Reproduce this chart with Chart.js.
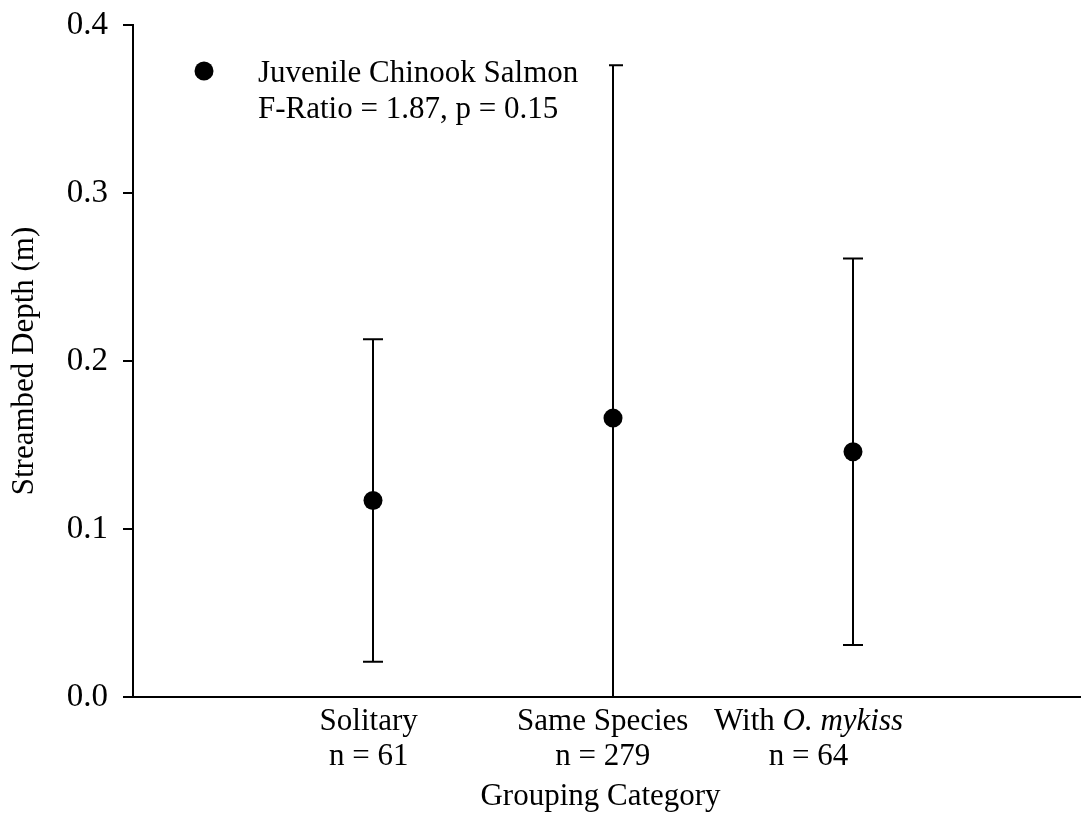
<!DOCTYPE html>
<html>
<head>
<meta charset="utf-8">
<script src="https://cdn.jsdelivr.net/npm/chart.js@4.4.1/dist/chart.umd.min.js"></script>
<style>
  html, body { margin: 0; padding: 0; background: #fff; }
  #wrap { width: 1081px; height: 815px; }
</style>
</head>
<body>
<div id="wrap"><canvas id="depthChart" width="1081" height="815"></canvas></div>
<script>
// grouping categories (second line of each label is the sample size)
const groups = ['Solitary', 'Same Species', 'With O. mykiss'];
const sampleSizes = [61, 279, 64];
const groupX = [1, 2, 3];
// mean streambed depth (m) and error bar half-width
const meanDepth = [0.117, 0.166, 0.146];
const depthErr = [0.096, 0.210, 0.115];
const yTicks = [0.0, 0.1, 0.2, 0.3, 0.4];

const FONT = '"Liberation Serif", "Times New Roman", serif';
const FS = 31;

// label anchors along the x axis, nudged like the printed figure
const labelAnchor = [0.982, 1.957, 2.815];
const axisTitleAnchor = 1.948;

const errorBars = {
    id: 'errorBars',
    beforeDatasetsDraw(chart) {
        const ctx = chart.ctx;
        const xs = chart.scales.x, ys = chart.scales.y;
        const area = chart.chartArea;
        ctx.save();
        ctx.beginPath();
        ctx.rect(area.left, area.top - 2, area.right - area.left, area.bottom - area.top + 2);
        ctx.clip();
        ctx.strokeStyle = '#000';
        ctx.lineWidth = 2;
        for (let i = 0; i < meanDepth.length; i++) {
            const px = Math.round(xs.getPixelForValue(groupX[i]));
            const hi = ys.getPixelForValue(meanDepth[i] + depthErr[i]);
            const lo = ys.getPixelForValue(meanDepth[i] - depthErr[i]);
            ctx.beginPath();
            ctx.moveTo(px, hi); ctx.lineTo(px, lo);
            ctx.moveTo(px - 10, hi); ctx.lineTo(px + 10, hi);
            ctx.moveTo(px - 10, lo); ctx.lineTo(px + 10, lo);
            ctx.stroke();
        }
        ctx.restore();
    }
};

const annotations = {
    id: 'annotations',
    afterDatasetsDraw(chart) {
        const ctx = chart.ctx;
        const xs = chart.scales.x;
        const area = chart.chartArea;
        ctx.save();

        // legend box with white fill, stops just short of the middle bar
        const lx = area.left + 52, ly = area.top + 20;
        const boxRight = xs.getPixelForValue(groupX[1]) - 4;
        ctx.fillStyle = '#fff';
        ctx.fillRect(lx, ly, boxRight - lx, 92);
        ctx.fillStyle = '#000';
        ctx.beginPath();
        ctx.arc(lx + 19, ly + 26, 9.5, 0, Math.PI * 2);
        ctx.fill();
        ctx.font = FS + 'px ' + FONT;
        ctx.textAlign = 'left';
        ctx.textBaseline = 'alphabetic';
        ctx.fillText(chart.data.datasets[0].label, lx + 73, ly + 37);
        ctx.fillText('F-Ratio = 1.87, p = 0.15', lx + 73, ly + 73);

        // category labels under the x axis
        ctx.textAlign = 'center';
        const base = area.bottom + 33;
        for (let i = 0; i < groups.length; i++) {
            const cx = xs.getPixelForValue(labelAnchor[i]);
            if (groups[i].indexOf('O. mykiss') >= 0) {
                const plain = 'With ';
                const ital = 'O. mykiss';
                ctx.font = FS + 'px ' + FONT;
                const w1 = ctx.measureText(plain).width;
                ctx.font = 'italic ' + FS + 'px ' + FONT;
                const w2 = ctx.measureText(ital).width;
                const start = cx - (w1 + w2) / 2;
                ctx.textAlign = 'left';
                ctx.font = FS + 'px ' + FONT;
                ctx.fillText(plain, start, base);
                ctx.font = 'italic ' + FS + 'px ' + FONT;
                ctx.fillText(ital, start + w1, base);
                ctx.textAlign = 'center';
                ctx.font = FS + 'px ' + FONT;
            } else {
                ctx.font = FS + 'px ' + FONT;
                ctx.fillText(groups[i], cx, base);
            }
            ctx.fillText('n = ' + sampleSizes[i], cx, base + 35);
        }
        ctx.fillText('Grouping Category', xs.getPixelForValue(axisTitleAnchor), base + 75);
        ctx.restore();
    }
};

const ctx = document.getElementById('depthChart');
new Chart(ctx, {
    type: 'scatter',
    data: {
        datasets: [{
            label: 'Juvenile Chinook Salmon',
            data: groupX.map((x, i) => ({ x: x, y: meanDepth[i] })),
            pointRadius: 9.5,
            pointHoverRadius: 9.5,
            pointBackgroundColor: '#000',
            pointBorderColor: '#000',
            pointBorderWidth: 0
        }]
    },
    options: {
        responsive: false,
        animation: false,
        layout: { autoPadding: false, padding: { top: 25, right: 0, left: 0, bottom: 0 } },
        plugins: {
            legend: { display: false },
            tooltip: { enabled: false }
        },
        scales: {
            x: {
                type: 'linear',
                min: 0,
                max: 3.95,
                ticks: { display: false },
                grid: { display: false },
                border: { display: true, color: '#000', width: 2 },
                afterFit(scale) {
                    scale.height = 118;
                    scale.paddingLeft = 0;
                    scale.paddingRight = 0;
                }
            },
            y: {
                min: 0,
                max: 0.4,
                afterBuildTicks(scale) { scale.ticks = yTicks.map(v => ({ value: v })); },
                ticks: {
                    color: '#000',
                    padding: 15,
                    font: { family: FONT, size: 33 },
                    callback: v => Number(v).toFixed(1)
                },
                grid: {
                    display: true,
                    drawOnChartArea: false,
                    drawTicks: true,
                    tickLength: 10,
                    color: '#000',
                    lineWidth: 2
                },
                border: { display: true, color: '#000', width: 2 },
                title: {
                    display: true,
                    text: 'Streambed Depth (m)',
                    color: '#000',
                    font: { family: FONT, size: FS },
                    padding: { top: 6, bottom: 0 }
                },
                afterFit(scale) {
                    scale.width = 133;
                    scale.paddingTop = 0;
                    scale.paddingBottom = 0;
                }
            }
        }
    },
    plugins: [errorBars, annotations]
});
</script>
</body>
</html>
